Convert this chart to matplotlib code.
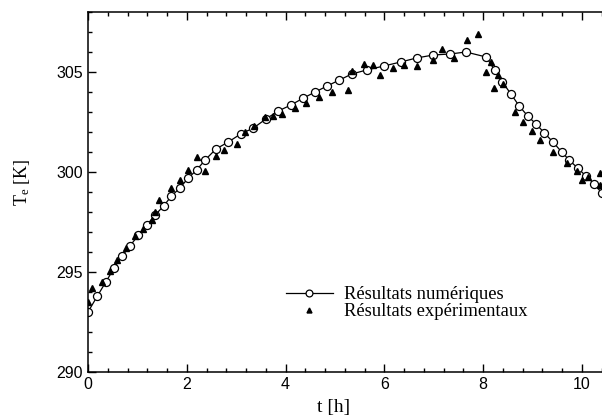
import matplotlib.pyplot as plt
from matplotlib.ticker import MultipleLocator, FixedLocator

plt.rcParams["font.family"] = ["Liberation Sans", "DejaVu Sans"]
plt.rcParams["mathtext.fontset"] = "custom"
plt.rcParams["mathtext.rm"] = "Liberation Serif"
plt.rcParams["mathtext.it"] = "Liberation Serif:italic"

# Numerical results (time in hours, temperature in K)
t_num = [0.00, 0.19, 0.36, 0.53, 0.69, 0.85, 1.02, 1.19, 1.36, 1.53,
         1.69, 1.86, 2.03, 2.20, 2.37, 2.59, 2.84, 3.09, 3.35, 3.60,
         3.85, 4.11, 4.36, 4.60, 4.84, 5.09, 5.34, 5.64, 5.99, 6.33,
         6.65, 6.99, 7.33, 7.65, 8.06, 8.23, 8.39, 8.56, 8.73, 8.90,
         9.07, 9.24, 9.41, 9.59, 9.74, 9.91, 10.08, 10.25, 10.40]
T_num = [293.0, 293.8, 294.5, 295.2, 295.8, 296.3, 296.85, 297.35, 297.85, 298.3,
         298.8, 299.2, 299.7, 300.1, 300.6, 301.15, 301.5, 301.9, 302.2, 302.65,
         303.05, 303.35, 303.7, 304.0, 304.3, 304.6, 304.9, 305.1, 305.3, 305.5,
         305.7, 305.85, 305.9, 306.0, 305.75, 305.1, 304.5, 303.9, 303.3, 302.8,
         302.4, 301.95, 301.5, 301.0, 300.6, 300.2, 299.8, 299.4, 298.95]

# Experimental measurements
t_exp = [0.00, 0.09, 0.28, 0.45, 0.59, 0.77, 0.95, 1.12, 1.29, 1.36,
         1.44, 1.69, 1.86, 2.03, 2.20, 2.37, 2.60, 2.76, 3.01, 3.18,
         3.37, 3.58, 3.75, 3.92, 4.19, 4.42, 4.68, 4.93, 5.27, 5.34,
         5.59, 5.76, 5.92, 6.17, 6.40, 6.65, 6.99, 7.16, 7.40, 7.67,
         7.90, 8.06, 8.15, 8.22, 8.30, 8.41, 8.64, 8.81, 8.98, 9.15,
         9.41, 9.69, 9.89, 10.01, 10.13, 10.36, 10.37]
T_exp = [293.5, 294.2, 294.5, 295.05, 295.6, 296.2, 296.8, 297.15, 297.6, 298.0,
         298.6, 299.2, 299.6, 300.1, 300.75, 300.05, 300.8, 301.1, 301.4, 302.0,
         302.3, 302.75, 302.8, 302.9, 303.2, 303.45, 303.75, 304.0, 304.1, 305.05,
         305.4, 305.35, 304.85, 305.2, 305.35, 305.3, 305.6, 306.15, 305.7, 306.6,
         306.9, 305.0, 305.5, 304.2, 304.85, 304.4, 303.0, 302.5, 302.05, 301.6,
         301.0, 300.45, 300.05, 299.6, 299.75, 299.95, 299.35]

x_ticks = [0, 2, 4, 6, 8, 10]

fig = plt.figure(figsize=(6.02, 4.18), dpi=100)
# axes run past the right edge of the figure
ax = fig.add_axes([88 / 602, 46 / 418, 12 * 49.4 / 602, 360 / 418])

ax.plot(t_num, T_num, color="black", lw=0.9, marker="o", ms=5.8,
        mfc="white", mec="black", mew=0.9, label="Résultats numériques", zorder=2)
ax.plot(t_exp, T_exp, ls="none", marker="^", ms=4.2, color="black",
        label="Résultats expérimentaux", zorder=3)

ax.set_xlim(0, 12)
ax.set_ylim(290, 308)
ax.xaxis.set_major_locator(FixedLocator(x_ticks))
ax.xaxis.set_minor_locator(MultipleLocator(0.4))
ax.yaxis.set_major_locator(MultipleLocator(5))
ax.yaxis.set_minor_locator(MultipleLocator(1))
ax.tick_params(which="both", direction="in", top=True, right=True,
               labelsize=11.5, width=1)
ax.tick_params(which="major", length=6)
ax.tick_params(which="minor", length=3)
for s in ax.spines.values():
    s.set_linewidth(1.1)

ax.set_xlabel("t [h]", family="Liberation Serif", fontsize=14)
ax.set_ylabel(r"T$_\mathrm{e}$ [K]", family="Liberation Serif", fontsize=13)
ax.xaxis.set_label_coords(0.415, -0.075)
ax.yaxis.set_label_coords(-0.094, 0.528)

ax.legend(loc="upper left", bbox_to_anchor=(286 / 602, 1 - 286 / 418),
          bbox_transform=fig.transFigure, frameon=False, borderpad=0,
          borderaxespad=0, handlelength=2.5, handletextpad=0.64,
          labelspacing=0.02, markerscale=0.85,
          prop={"family": "Liberation Serif", "size": 13.4})

fig.savefig("out.png", dpi=100)
